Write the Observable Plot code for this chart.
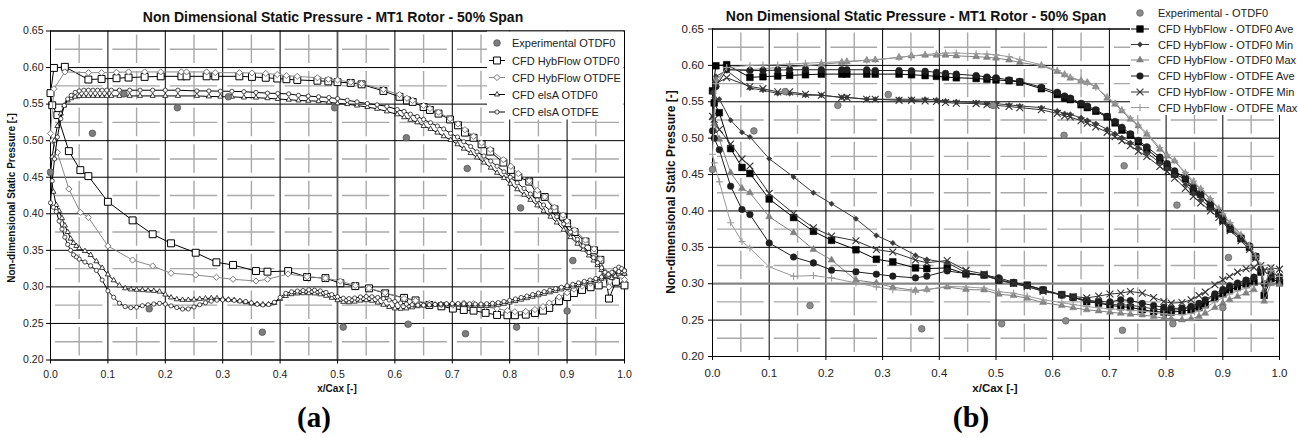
<!DOCTYPE html>
<html><head><meta charset="utf-8">
<script src="https://cdn.jsdelivr.net/npm/d3@7"></script>
<script src="https://cdn.jsdelivr.net/npm/@observablehq/plot@0.6"></script>
<style>
body{margin:0;background:#fff;}
#root{position:relative;width:1298px;height:438px;overflow:hidden;background:#fff;}
.pan{position:absolute;top:0;}
</style></head><body><div id="root"></div>
<script>
// ---------- tick values ----------
const xMajor = [0.0,0.1,0.2,0.3,0.4,0.5,0.6,0.7,0.8,0.9,1.0];
const xMinor = [0.05,0.15,0.25,0.35,0.45,0.55,0.65,0.75,0.85,0.95];
const yMajor = [0.20,0.25,0.30,0.35,0.40,0.45,0.50,0.55,0.60,0.65];
const yMinor = [0.225,0.275,0.325,0.375,0.425,0.475,0.525,0.575,0.625];

// ---------- experimental ----------
const expX = [0.000,0.073,0.128,0.172,0.221,0.310,0.369,0.495,0.510,0.620,0.623,0.726,0.723,0.812,0.819,0.900,0.910];
const expY = [0.457,0.510,0.564,0.270,0.545,0.560,0.238,0.545,0.245,0.504,0.249,0.462,0.236,0.245,0.408,0.267,0.336];

// ---------- HybFlow grid: pressure side (upper) and suction side (lower) ----------
const hybPSx = [0.000,0.006,0.025,0.066,0.089,0.115,0.136,0.164,0.192,0.228,0.237,0.272,0.287,0.329,0.351,0.375,0.395,0.411,0.430,0.465,0.484,0.500,0.523,0.542,0.580,0.608,0.621,0.631,0.650,0.661,0.676,0.696,0.710,0.722,0.737,0.751,0.766,0.789,0.802,0.815,0.834,0.848,0.861,0.878,0.893,0.900,0.913,0.932,0.947,0.958,0.967,0.973,0.985,1.000];
const hybSSx = [0.003,0.012,0.032,0.052,0.066,0.100,0.143,0.178,0.210,0.253,0.289,0.318,0.358,0.378,0.414,0.447,0.479,0.505,0.531,0.555,0.583,0.616,0.636,0.660,0.681,0.701,0.720,0.737,0.758,0.778,0.796,0.809,0.828,0.844,0.858,0.869,0.886,0.900,0.912,0.926,0.941,0.955];

// OTDF0 (= OTDF0 Ave)
const otdf0PS = [0.565,0.5995,0.601,0.5836,0.5844,0.5854,0.5863,0.5872,0.588,0.588,0.588,0.588,0.588,0.588,0.5872,0.586,0.585,0.584,0.583,0.582,0.581,0.580,0.579,0.577,0.568,0.560,0.555,0.553,0.546,0.542,0.537,0.529,0.521,0.511,0.504,0.495,0.485,0.470,0.460,0.4505,0.444,0.4265,0.423,0.406,0.396,0.387,0.375,0.362,0.350,0.337,0.316,0.284,0.307,0.302];
const otdf0SS = [0.5485,0.535,0.4857,0.4597,0.4515,0.4164,0.391,0.372,0.3596,0.3467,0.3336,0.330,0.3217,0.3208,0.3217,0.3135,0.312,0.305,0.301,0.298,0.2912,0.285,0.2815,0.2753,0.2734,0.2703,0.2684,0.2675,0.2644,0.2616,0.2612,0.2612,0.262,0.2643,0.2675,0.2712,0.2805,0.286,0.2915,0.2958,0.2995,0.302];
// OTDFE (= OTDFE Ave)
const otdfePS = [0.510,0.571,0.594,0.593,0.593,0.5935,0.594,0.594,0.594,0.594,0.594,0.594,0.593,0.593,0.5926,0.592,0.5905,0.589,0.588,0.586,0.584,0.583,0.580,0.578,0.570,0.563,0.558,0.555,0.548,0.544,0.539,0.530,0.523,0.515,0.506,0.497,0.488,0.474,0.465,0.455,0.445,0.432,0.423,0.409,0.398,0.390,0.378,0.364,0.352,0.338,0.320,0.300,0.315,0.310];
const otdfeSS = [0.500,0.484,0.434,0.402,0.395,0.356,0.3367,0.3286,0.3186,0.3163,0.3131,0.3104,0.308,0.3104,0.3176,0.3139,0.312,0.308,0.302,0.298,0.292,0.284,0.281,0.2775,0.2755,0.275,0.278,0.277,0.273,0.270,0.2675,0.266,0.2665,0.269,0.273,0.278,0.286,0.292,0.297,0.301,0.305,0.309];
// OTDF0 Min / Max
const min0PS = [0.563,0.585,0.593,0.5687,0.566,0.5613,0.5613,0.559,0.559,0.556,0.556,0.5535,0.5535,0.5535,0.5535,0.5535,0.5526,0.5512,0.550,0.549,0.5475,0.5475,0.5457,0.5443,0.542,0.5374,0.5337,0.5328,0.528,0.5245,0.520,0.5122,0.5062,0.5007,0.4938,0.487,0.480,0.4663,0.4594,0.4502,0.4364,0.425,0.4158,0.4043,0.3952,0.388,0.376,0.362,0.350,0.337,0.318,0.290,0.310,0.305];
const min0SS = [0.556,0.5536,0.5246,0.508,0.5017,0.4718,0.4466,0.425,0.4099,0.3892,0.3663,0.356,0.339,0.3334,0.3288,0.3151,0.311,0.305,0.300,0.296,0.290,0.285,0.281,0.2765,0.274,0.2715,0.271,0.2705,0.268,0.2655,0.264,0.2635,0.2645,0.267,0.271,0.276,0.284,0.290,0.295,0.299,0.303,0.307];
const max0PS = [0.528,0.580,0.595,0.594,0.5955,0.597,0.598,0.5995,0.6015,0.604,0.605,0.607,0.6075,0.611,0.613,0.614,0.614,0.614,0.6131,0.612,0.611,0.610,0.6073,0.6041,0.5995,0.5917,0.5871,0.5825,0.579,0.5766,0.5706,0.555,0.5467,0.5375,0.526,0.5168,0.5053,0.4847,0.4755,0.4686,0.4512,0.4388,0.4296,0.4158,0.402,0.395,0.382,0.366,0.352,0.337,0.322,0.276,0.300,0.299];
const max0SS = [0.520,0.4985,0.4525,0.431,0.425,0.392,0.370,0.347,0.3325,0.305,0.301,0.2952,0.2906,0.292,0.2955,0.292,0.2915,0.2855,0.2837,0.280,0.2741,0.270,0.267,0.2641,0.2627,0.2608,0.2594,0.258,0.2572,0.2549,0.2526,0.2517,0.2503,0.2517,0.2549,0.2594,0.2672,0.2733,0.2779,0.2825,0.2871,0.2917];
// OTDFE Min / Max
const minEPS = [0.530,0.575,0.583,0.571,0.568,0.5636,0.5636,0.5604,0.559,0.556,0.556,0.5535,0.5535,0.552,0.552,0.551,0.5505,0.549,0.548,0.5475,0.546,0.545,0.5435,0.542,0.539,0.534,0.5305,0.529,0.524,0.5205,0.5155,0.508,0.502,0.4965,0.4895,0.482,0.475,0.461,0.454,0.445,0.431,0.420,0.411,0.400,0.391,0.385,0.373,0.359,0.347,0.335,0.325,0.318,0.322,0.320];
const minESS = [0.526,0.512,0.492,0.4715,0.4617,0.4241,0.3965,0.3768,0.3655,0.359,0.347,0.3435,0.3326,0.3288,0.332,0.3183,0.3134,0.3055,0.3008,0.2962,0.2894,0.2848,0.2825,0.2805,0.283,0.2858,0.2871,0.2894,0.2871,0.2811,0.2756,0.2733,0.2742,0.2779,0.2839,0.2885,0.2986,0.3055,0.310,0.316,0.3206,0.3224];
const maxEPS = [0.478,0.575,0.597,0.600,0.6005,0.601,0.602,0.603,0.604,0.605,0.6055,0.607,0.608,0.611,0.613,0.615,0.616,0.617,0.617,0.616,0.6155,0.6145,0.612,0.608,0.601,0.593,0.588,0.584,0.579,0.576,0.570,0.557,0.548,0.539,0.528,0.518,0.507,0.487,0.477,0.469,0.453,0.441,0.431,0.417,0.404,0.396,0.384,0.368,0.353,0.338,0.325,0.300,0.318,0.310];
const maxESS = [0.466,0.44,0.3837,0.358,0.349,0.3232,0.3103,0.3112,0.308,0.3011,0.2956,0.2919,0.2896,0.2919,0.2965,0.2955,0.294,0.289,0.287,0.283,0.278,0.274,0.2715,0.2685,0.267,0.2655,0.2645,0.2635,0.2625,0.2605,0.2585,0.2578,0.2575,0.259,0.2625,0.267,0.275,0.281,0.2855,0.290,0.294,0.298];

// ---------- elsA ----------
const elsaPSx = [0.000,0.003,0.007,0.012,0.018,0.024,0.030,0.036,0.043,0.050,0.058,0.066,0.074,0.082,0.090,0.098,0.106,0.120,0.138,0.156,0.178,0.200,0.222,0.255,0.276,0.296,0.316,0.337,0.358,0.378,0.396,0.415,0.432,0.449,0.467,0.485,0.500,0.517,0.534,0.552,0.569,0.586,0.604,0.616,0.627,0.639,0.650,0.662,0.674,0.685,0.697,0.709,0.720,0.732,0.743,0.755,0.767,0.778,0.790,0.801,0.813,0.825,0.836,0.848,0.859,0.871,0.882,0.894,0.906,0.918,0.928,0.938,0.946,0.953,0.960,0.966,0.972,0.978,0.984,0.990,0.995,1.000];
const elsa0PS = [0.455,0.478,0.500,0.520,0.537,0.548,0.555,0.558,0.560,0.561,0.5612,0.5612,0.5612,0.5612,0.5612,0.5612,0.5612,0.5612,0.5612,0.5612,0.5612,0.5612,0.5612,0.5612,0.5605,0.5602,0.560,0.559,0.5588,0.558,0.557,0.556,0.555,0.5545,0.554,0.5525,0.551,0.550,0.548,0.546,0.5435,0.540,0.536,0.532,0.5285,0.525,0.520,0.516,0.511,0.506,0.501,0.495,0.489,0.483,0.477,0.470,0.463,0.456,0.449,0.441,0.4335,0.426,0.419,0.4115,0.404,0.396,0.388,0.378,0.368,0.359,0.351,0.343,0.336,0.330,0.323,0.318,0.314,0.312,0.315,0.318,0.320,0.318];
const elsaEPS = [0.415,0.445,0.475,0.505,0.530,0.548,0.557,0.562,0.566,0.568,0.569,0.569,0.569,0.569,0.569,0.569,0.569,0.569,0.569,0.569,0.569,0.569,0.569,0.568,0.568,0.5677,0.5675,0.567,0.566,0.565,0.5645,0.564,0.562,0.561,0.560,0.559,0.5576,0.5553,0.553,0.5508,0.549,0.547,0.5426,0.540,0.5362,0.533,0.529,0.5245,0.520,0.516,0.510,0.505,0.4985,0.492,0.4847,0.479,0.472,0.465,0.4574,0.450,0.4423,0.4346,0.427,0.419,0.412,0.404,0.396,0.386,0.375,0.365,0.356,0.347,0.340,0.333,0.326,0.320,0.317,0.320,0.324,0.327,0.325,0.322];
const elsaSSx = [0.005,0.010,0.015,0.020,0.025,0.030,0.035,0.040,0.045,0.050,
0.06,0.07,0.08,0.09,0.10,0.11,0.12,0.13,0.14,0.15,
0.16,0.17,0.18,0.19,0.20,0.21,0.22,0.23,0.24,0.25,
0.26,0.27,0.28,0.29,0.30,0.31,0.32,0.33,0.34,0.35,
0.36,0.37,0.38,0.39,0.40,0.41,0.42,0.43,0.44,0.45,
0.46,0.47,0.48,0.49,0.50,0.51,0.52,0.53,0.54,0.55,
0.56,0.57,0.58,0.59,0.60,0.61,0.62,0.63,0.64,0.65,
0.66,0.67,0.68,0.69,0.70,0.71,0.72,0.73,0.74,0.75,
0.76,0.77,0.78,0.79,0.80,0.81,0.82,0.83,0.84,0.85,
0.86,0.87,0.88,0.89,0.90,0.91,0.92,0.93,0.94,0.95,
0.96,0.97,0.98,0.99,1.00];
const elsa0SS = [0.43,0.412,0.404,0.394,0.384,0.375,0.366,0.36,0.356,0.353,
0.349,0.3436,0.335,0.326,0.317,0.309,0.302,0.298,0.2965,0.296,
0.2955,0.295,0.2945,0.2935,0.2895,0.2855,0.283,0.2822,0.2822,0.2825,
0.2835,0.2842,0.2845,0.2844,0.2835,0.2826,0.282,0.2805,0.279,0.2775,
0.2765,0.276,0.2762,0.278,0.2835,0.2875,0.29,0.291,0.2913,0.2913,
0.291,0.2898,0.2878,0.285,0.2818,0.2795,0.279,0.2798,0.2812,0.2818,
0.281,0.2785,0.2755,0.2725,0.2705,0.27,0.2705,0.272,0.2735,0.2745,
0.2752,0.2758,0.276,0.276,0.2758,0.2755,0.275,0.2745,0.274,0.2738,
0.274,0.2745,0.2755,0.2768,0.2785,0.2805,0.2825,0.2845,0.2865,0.2885,
0.2905,0.2925,0.2945,0.2965,0.2985,0.3005,0.3025,0.3045,0.3065,0.3085,
0.311,0.314,0.317,0.319,0.318];
const elsaESS = [0.409,0.403,0.39,0.379,0.368,0.358,0.35,0.344,0.341,0.338,
0.334,0.329,0.3225,0.3094,0.2945,0.2858,0.2778,0.273,0.2716,0.2722,
0.2742,0.2755,0.2766,0.2775,0.2765,0.274,0.2718,0.2697,0.2698,0.2725,
0.2755,0.2783,0.2805,0.2818,0.2822,0.2822,0.2815,0.2806,0.28,0.278,
0.2762,0.2753,0.276,0.279,0.2855,0.2912,0.2933,0.2943,0.295,0.296,
0.2955,0.2945,0.2925,0.2895,0.2865,0.2845,0.284,0.2848,0.2862,0.2868,
0.2865,0.2855,0.284,0.282,0.28,0.278,0.2765,0.2755,0.275,0.275,
0.2755,0.276,0.2765,0.277,0.2772,0.2772,0.277,0.2768,0.2765,0.2765,
0.277,0.2775,0.2785,0.28,0.2815,0.2835,0.2855,0.2875,0.2895,0.2915,
0.2935,0.2955,0.2975,0.2995,0.3015,0.3035,0.3055,0.3075,0.3095,0.3115,
0.3135,0.316,0.319,0.321,0.322];

// ---------- labels ----------
const titleText = "Non Dimensional Static Pressure - MT1 Rotor - 50% Span";
const yLabel = "Non-dimensional Static Pressure [-]";
const xLabel = "x/Cax [-]";
const legendLeft = ["Experimental OTDF0","CFD HybFlow OTDF0","CFD HybFlow OTDFE","CFD elsA OTDF0","CFD elsA OTDFE"];
const legendRight = ["Experimental - OTDF0","CFD HybFlow - OTDF0 Ave","CFD HybFlow - OTDF0 Min","CFD HybFlow - OTDF0 Max","CFD HybFlow - OTDFE Ave","CFD HybFlow - OTDFE Min","CFD HybFlow - OTDFE Max"];

// ---------- build ----------
const W = 1298, H = 438;
const FONT = "Arial, 'Liberation Sans', Helvetica, sans-serif";
function blade(psx, psy, ssx, ssy) {
  const pts = [];
  const ns = Math.min(ssx.length, ssy.length), np = Math.min(psx.length, psy.length);
  for (let i = ns - 1; i >= 0; i--) pts.push({x: ssx[i], y: ssy[i]});
  for (let i = 0; i < np; i++) pts.push({x: psx[i], y: psy[i]});
  return pts;
}
const expPts = expX.map((x, i) => ({x, y: expY[i]}));

const leftSeries = [
  {pts: blade(hybPSx, otdf0PS, hybSSx, otdf0SS), stroke:"#000", symbol:"square", r:3.9, fill:"#fff", ms:"#000", msw:1},
  {pts: blade(hybPSx, otdfePS, hybSSx, otdfeSS), stroke:"#8a8a8a", symbol:"diamond2", r:2.8, fill:"#fff", ms:"#7a7a7a", msw:1},
  {pts: blade(elsaPSx, elsa0PS, elsaSSx, elsa0SS), stroke:"#000", symbol:"triangle", r:1.9, fill:"#fff", ms:"#111", msw:0.8},
  {pts: blade(elsaPSx, elsaEPS, elsaSSx, elsaESS), stroke:"#000", symbol:"circle", r:2.1, fill:"#fff", ms:"#222", msw:0.8}
];
const rightSeries = [
  {pts: blade(hybPSx, otdf0PS, hybSSx, otdf0SS), stroke:"#000", symbol:"square", r:3.8, fill:"#000", ms:"#000", msw:0.5},
  {pts: blade(hybPSx, min0PS, hybSSx, min0SS), stroke:"#3a3a3a", symbol:"diamond2", r:2.4, fill:"#3a3a3a", ms:"#3a3a3a", msw:0.5},
  {pts: blade(hybPSx, max0PS, hybSSx, max0SS), stroke:"#808080", symbol:"triangle", r:2.6, fill:"#808080", ms:"#808080", msw:0.5},
  {pts: blade(hybPSx, otdfePS, hybSSx, otdfeSS), stroke:"#1e1e1e", symbol:"circle", r:3.3, fill:"#1e1e1e", ms:"#1e1e1e", msw:0.5},
  {pts: blade(hybPSx, minEPS, hybSSx, minESS), stroke:"#333", symbol:"times", r:3.2, fill:"none", ms:"#333", msw:1.1},
  {pts: blade(hybPSx, maxEPS, hybSSx, maxESS), stroke:"#9a9a9a", symbol:"plus", r:2.4, fill:"none", ms:"#9a9a9a", msw:1.1}
];

function makePanel(cfg) {
  const {width, mL, mR, mT, mB, fs, padX, padY, series, expStyle, thickX, thickY} = cfg;
  const pw = width - mL - mR, ph = H - mT - mB;
  const sx = pw / 10, sy = ph / 9;
  const gH = 10, gV = 8;
  const marks = [
    Plot.ruleY(yMinor, {stroke:"#a9a9a9", strokeWidth:1.4, strokeDasharray:`0,${gH/2},${sx - gH},${gH/2}`}),
    Plot.ruleX(xMinor, {stroke:"#a9a9a9", strokeWidth:1.4, strokeDasharray:`0,${gV/2},${sy - gV},${gV/2}`}),
    Plot.ruleY(yMajor.filter(v => !thickY.includes(v)), {stroke:"#000", strokeWidth:1}),
    Plot.ruleX(xMajor.filter(v => !thickX.includes(v)), {stroke:"#000", strokeWidth:1}),
    Plot.ruleY(thickY, {stroke:"#858585", strokeWidth:2.2}),
    Plot.ruleX(thickX, {stroke:"#555", strokeWidth:1.8}),
    Plot.frame({stroke:"#000", strokeWidth:1})
  ];
  for (const s of series) {
    marks.push(Plot.line(s.pts, {x:"x", y:"y", stroke:s.stroke, strokeWidth:1}));
    marks.push(Plot.dot(s.pts, {x:"x", y:"y", symbol:s.symbol, r:s.r, fill:s.fill, stroke:s.ms, strokeWidth:s.msw}));
  }
  marks.push(Plot.dot(expPts, {x:"x", y:"y", symbol:"circle", r:3.3, fill:expStyle.fill, stroke:expStyle.stroke, strokeWidth:0.8}));
  marks.push(Plot.axisX(xMajor, {tickFormat:d3.format(".1f"), tickSize:4, tickPadding:padX, label:null, stroke:"#000"}));
  marks.push(Plot.axisY(yMajor, {tickFormat:d3.format(".2f"), tickSize:4, tickPadding:padY, label:null, stroke:"#000"}));
  return Plot.plot({
    width, height:H, marginLeft:mL, marginRight:mR, marginTop:mT, marginBottom:mB,
    x:{domain:[0,1]}, y:{domain:[0.2,0.65]},
    style:{background:"transparent", fontFamily:FONT, fontSize:fs + "px", color:"#222", overflow:"visible"},
    marks
  });
}

const root = document.getElementById("root");
const leftDiv = document.createElement("div"); leftDiv.className = "pan"; leftDiv.style.left = "0px";
const rightDiv = document.createElement("div"); rightDiv.className = "pan"; rightDiv.style.left = "649px";
root.appendChild(leftDiv); root.appendChild(rightDiv);

leftDiv.appendChild(makePanel({width:649, mL:50, mR:25, mT:30.5, mB:78.5, fs:10.5, padX:7, padY:3,
  series:leftSeries, expStyle:{fill:"#7d7d7d", stroke:"#555"}, thickX:[0.5], thickY:[]}));
rightDiv.appendChild(makePanel({width:649, mL:63, mR:19, mT:28.5, mB:82, fs:11.5, padX:8, padY:4.5,
  series:rightSeries, expStyle:{fill:"#8c8c8c", stroke:"#666"}, thickX:[], thickY:[0.30]}));

// ---------- overlay: titles, labels, legends ----------
const ov = d3.select(root).append("svg").attr("width", W).attr("height", H)
  .style("position","absolute").style("left","0px").style("top","0px").style("font-family", FONT);

ov.append("text").attr("x", 333).attr("y", 22).attr("text-anchor","middle").attr("font-weight","bold").attr("font-size",14).attr("fill","#111").text(titleText);
ov.append("text").attr("x", 916).attr("y", 20.5).attr("text-anchor","middle").attr("font-weight","bold").attr("font-size",14).attr("fill","#111").text(titleText);

ov.append("text").attr("transform","translate(15,198) rotate(-90)").attr("text-anchor","middle").attr("font-weight","bold").attr("font-size",10).attr("fill","#111").text(yLabel);
ov.append("text").attr("transform","translate(675,192) rotate(-90)").attr("text-anchor","middle").attr("font-weight","bold").attr("font-size",12).attr("fill","#111").text(yLabel);

ov.append("text").attr("x", 337).attr("y", 392).attr("text-anchor","middle").attr("font-weight","bold").attr("font-size",10).attr("fill","#111").text(xLabel);
ov.append("text").attr("x", 995).attr("y", 392).attr("text-anchor","middle").attr("font-weight","bold").attr("font-size",11.5).attr("fill","#111").text(xLabel);

ov.append("text").attr("x", 314).attr("y", 427).attr("text-anchor","middle").attr("font-weight","bold").attr("font-size",29).attr("font-family","'Liberation Serif','Times New Roman',serif").attr("fill","#000").text("(a)");
ov.append("text").attr("x", 971).attr("y", 427).attr("text-anchor","middle").attr("font-weight","bold").attr("font-size",30).attr("font-family","'Liberation Serif','Times New Roman',serif").attr("fill","#000").text("(b)");

const symMap = {square:d3.symbolSquare, diamond2:d3.symbolDiamond2, triangle:d3.symbolTriangle, circle:d3.symbolCircle, times:d3.symbolTimes, plus:d3.symbolPlus};
function legend(box, x0, x1, xm, xt, ys, labels, styles, fs) {
  ov.append("rect").attr("x", box[0]).attr("y", box[1]).attr("width", box[2]).attr("height", box[3]).attr("fill","#fff");
  labels.forEach((lab, i) => {
    const s = styles[i], y = ys[i];
    if (s.line) ov.append("line").attr("x1", x0).attr("x2", x1).attr("y1", y).attr("y2", y).attr("stroke", s.stroke).attr("stroke-width", 1);
    ov.append("path").attr("transform", `translate(${xm},${y})`)
      .attr("d", d3.symbol(symMap[s.symbol], Math.PI * s.r * s.r)())
      .attr("fill", s.fill).attr("stroke", s.ms).attr("stroke-width", s.msw);
    ov.append("text").attr("x", xt).attr("y", y + 4).attr("font-size", fs).attr("fill","#222").text(lab);
  });
}
const expL = {line:false, symbol:"circle", r:3.3, fill:"#7d7d7d", ms:"#555", msw:0.8};
legend([487, 31.5, 136.5, 88], 489, 505, 497, 512, [43, 60.5, 77.5, 94.5, 112], legendLeft,
  [expL, ...leftSeries.map(s => ({...s, line:true}))], 11);
const expR = {line:false, symbol:"circle", r:3.3, fill:"#8c8c8c", ms:"#666", msw:0.8};
legend([1130, 0, 168, 115], 1131, 1149, 1140, 1158, [13, 29, 44.5, 60, 76, 92, 107.5], legendRight,
  [expR, ...rightSeries.map(s => ({...s, line:true}))], 11);
</script></body></html>
